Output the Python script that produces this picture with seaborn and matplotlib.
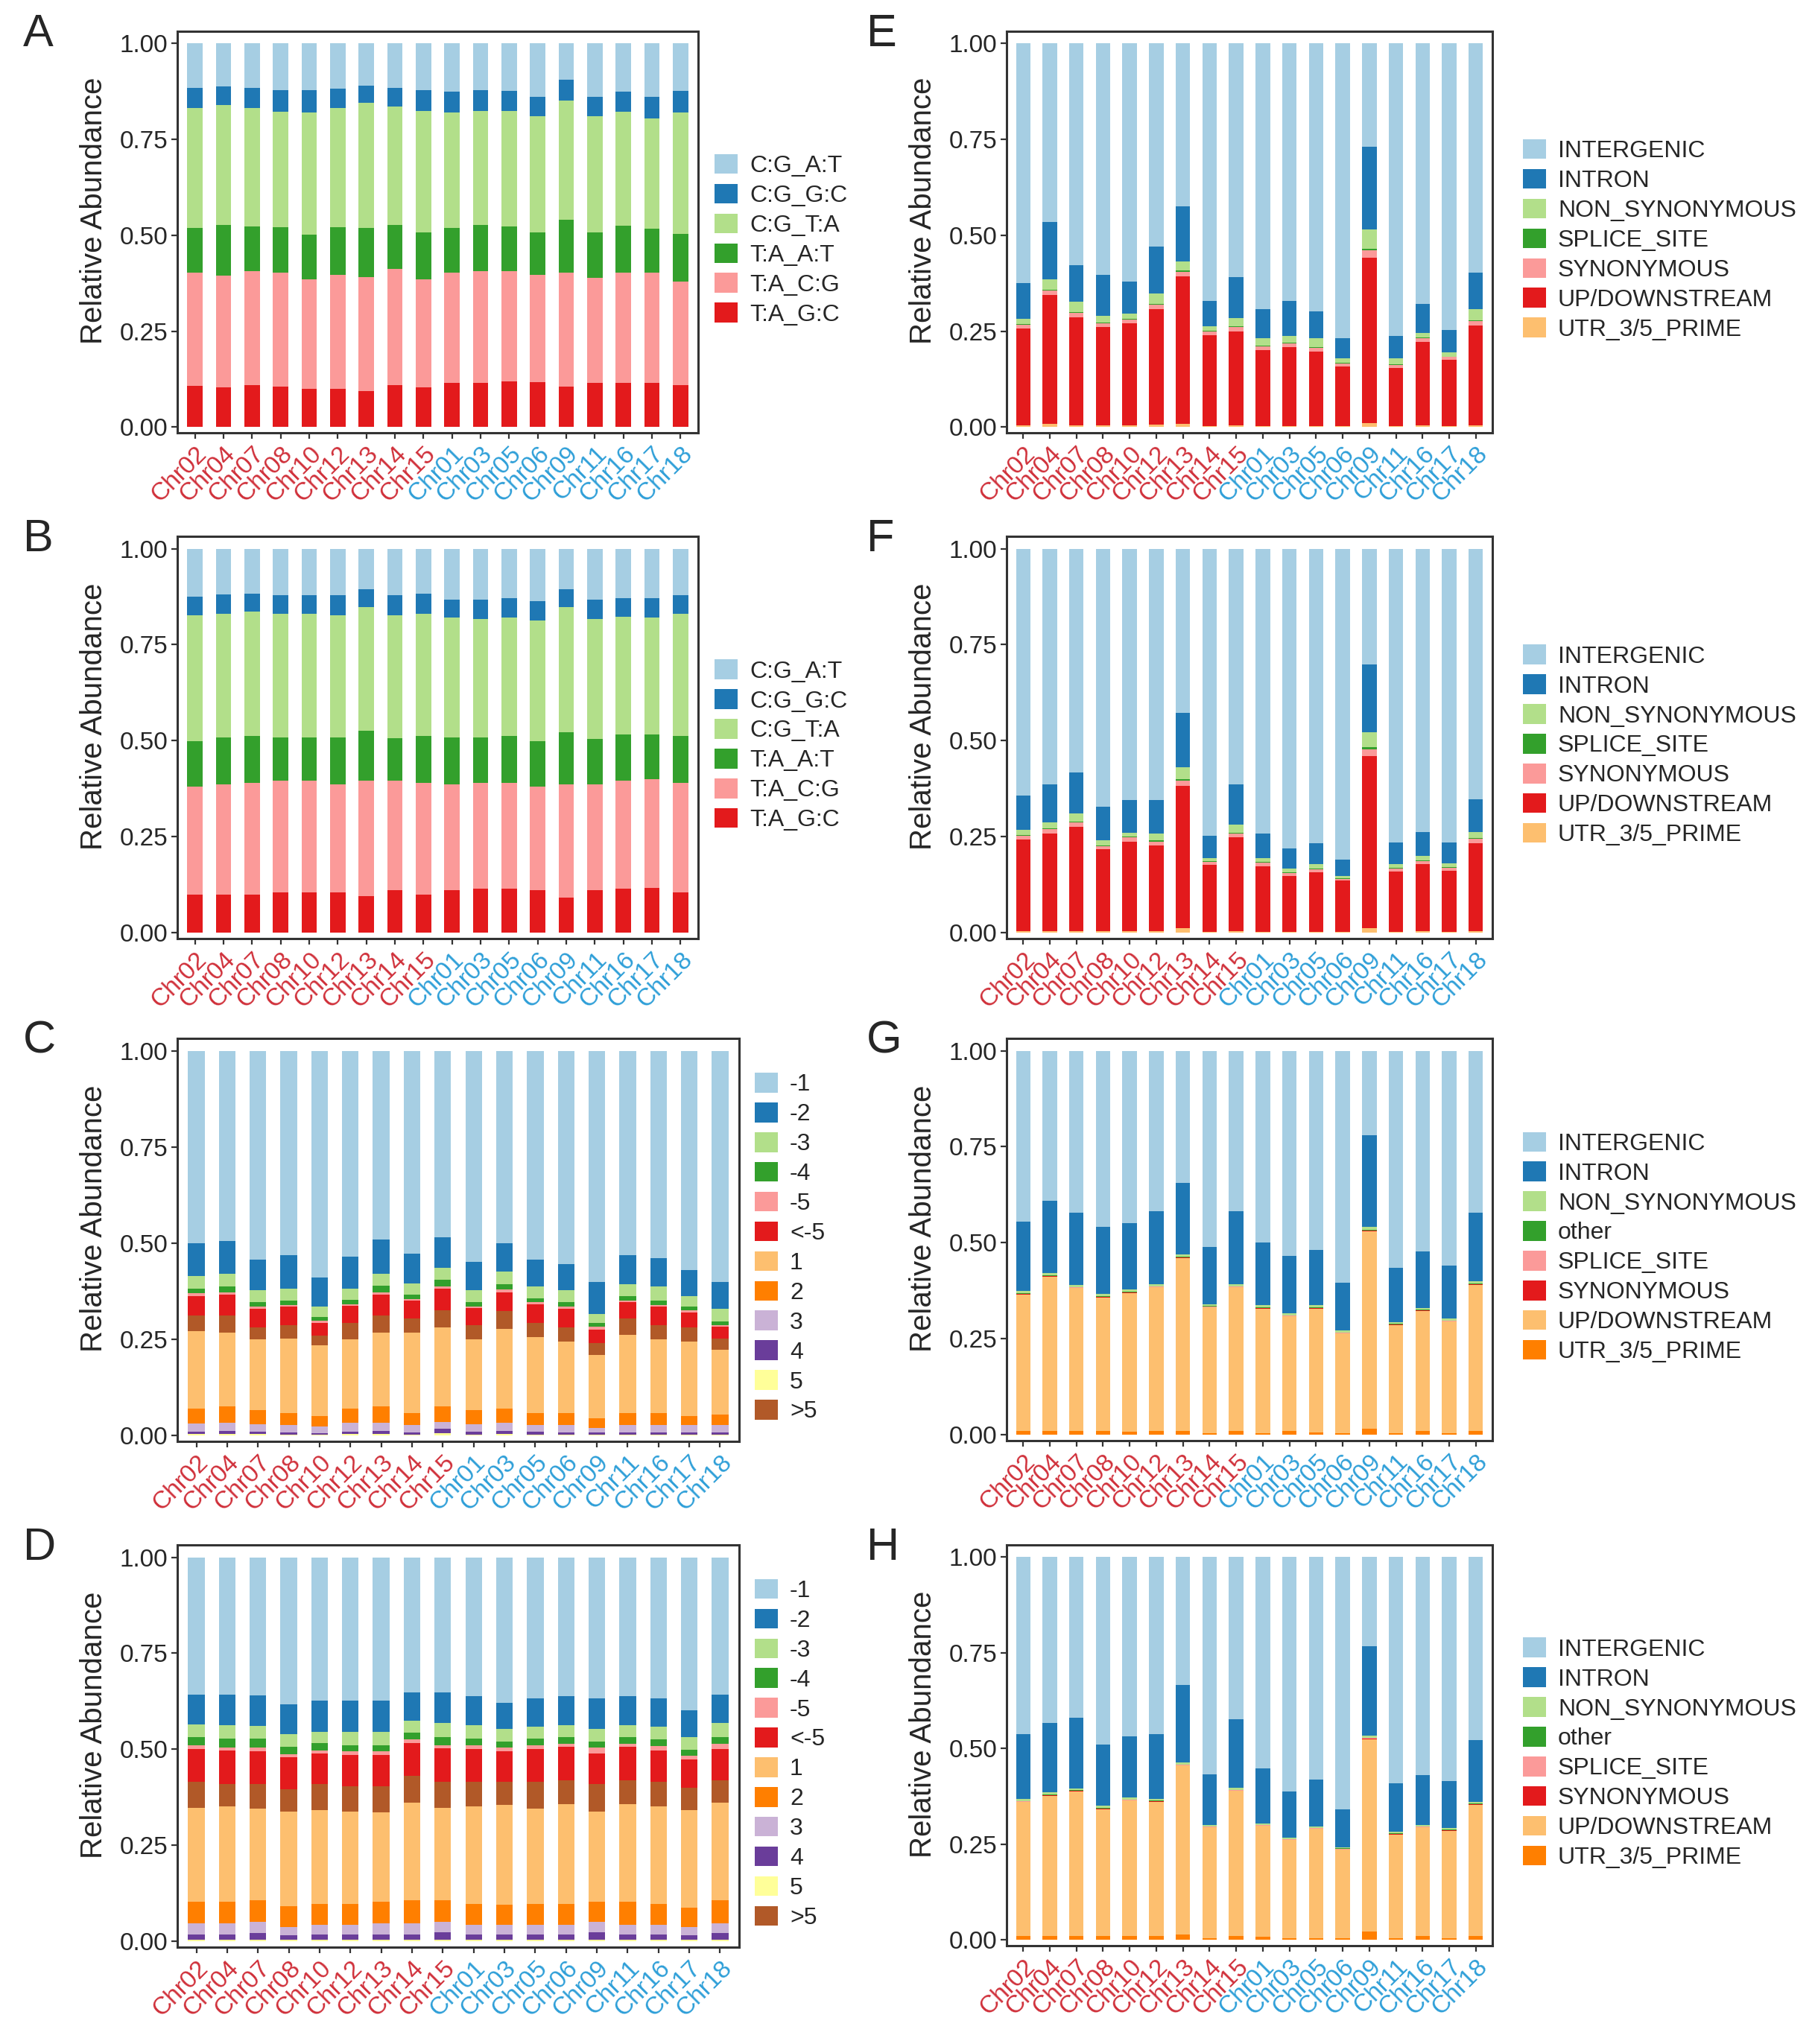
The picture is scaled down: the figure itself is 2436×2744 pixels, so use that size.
import matplotlib.pyplot as plt
import seaborn as sns
from matplotlib.patches import Patch

sns.set_style("white")
plt.rcParams['font.family'] = ['Liberation Sans', 'DejaVu Sans']

W, H = 2436, 2744
pal = sns.color_palette("Paired", 12)
RED_LAB = "#D0303A"
BLUE_LAB = "#2E9FD8"

chroms = ["Chr02", "Chr04", "Chr07", "Chr08", "Chr10", "Chr12", "Chr13", "Chr14", "Chr15",
          "Chr01", "Chr03", "Chr05", "Chr06", "Chr09", "Chr11", "Chr16", "Chr17", "Chr18"]
n_red = 9
total = [1.0] * 18

# every list below = cumulative height reached by the top of that layer
# panel A
a_cg_gc = [0.885, 0.889, 0.885, 0.879, 0.879, 0.883, 0.891, 0.885, 0.879, 0.874, 0.879, 0.876, 0.862, 0.906, 0.862, 0.874, 0.862, 0.876]
a_cg_ta = [0.832, 0.839, 0.831, 0.822, 0.821, 0.832, 0.846, 0.836, 0.825, 0.821, 0.825, 0.825, 0.810, 0.852, 0.810, 0.822, 0.805, 0.821]
a_ta_at = [0.520, 0.527, 0.523, 0.521, 0.502, 0.521, 0.520, 0.527, 0.507, 0.519, 0.527, 0.523, 0.507, 0.540, 0.507, 0.525, 0.517, 0.504]
a_ta_cg = [0.402, 0.395, 0.406, 0.402, 0.385, 0.396, 0.391, 0.413, 0.386, 0.402, 0.406, 0.406, 0.396, 0.402, 0.389, 0.402, 0.402, 0.380]
a_ta_gc = [0.107, 0.104, 0.109, 0.105, 0.100, 0.100, 0.094, 0.109, 0.103, 0.115, 0.115, 0.120, 0.118, 0.105, 0.115, 0.115, 0.115, 0.109]

# panel B
b_cg_gc = [0.874, 0.881, 0.883, 0.879, 0.879, 0.878, 0.894, 0.879, 0.883, 0.868, 0.868, 0.872, 0.864, 0.894, 0.868, 0.872, 0.872, 0.878]
b_cg_ta = [0.826, 0.831, 0.836, 0.831, 0.831, 0.826, 0.847, 0.826, 0.831, 0.821, 0.817, 0.821, 0.813, 0.847, 0.817, 0.823, 0.821, 0.831]
b_ta_at = [0.498, 0.508, 0.512, 0.508, 0.509, 0.508, 0.525, 0.506, 0.512, 0.508, 0.509, 0.513, 0.498, 0.523, 0.504, 0.517, 0.517, 0.512]
b_ta_cg = [0.380, 0.386, 0.390, 0.396, 0.396, 0.386, 0.396, 0.396, 0.391, 0.386, 0.391, 0.391, 0.381, 0.386, 0.386, 0.396, 0.400, 0.390]
b_ta_gc = [0.100, 0.100, 0.100, 0.106, 0.106, 0.106, 0.096, 0.111, 0.100, 0.111, 0.115, 0.115, 0.111, 0.092, 0.111, 0.115, 0.117, 0.106]

# panel C
c_m2 = [0.499, 0.505, 0.457, 0.468, 0.410, 0.464, 0.510, 0.473, 0.516, 0.452, 0.499, 0.457, 0.446, 0.399, 0.468, 0.462, 0.431, 0.399]
c_m3 = [0.415, 0.420, 0.377, 0.382, 0.336, 0.382, 0.420, 0.395, 0.436, 0.378, 0.426, 0.388, 0.378, 0.315, 0.394, 0.388, 0.362, 0.329]
c_m4 = [0.382, 0.388, 0.346, 0.351, 0.309, 0.352, 0.389, 0.367, 0.404, 0.346, 0.394, 0.357, 0.346, 0.292, 0.362, 0.351, 0.336, 0.297]
c_m5 = [0.371, 0.373, 0.336, 0.339, 0.299, 0.342, 0.373, 0.355, 0.388, 0.336, 0.380, 0.346, 0.336, 0.283, 0.351, 0.340, 0.326, 0.287]
c_lt5 = [0.362, 0.367, 0.329, 0.335, 0.293, 0.337, 0.367, 0.350, 0.382, 0.331, 0.373, 0.341, 0.329, 0.275, 0.346, 0.336, 0.320, 0.283]
c_gt5 = [0.313, 0.313, 0.282, 0.287, 0.260, 0.292, 0.313, 0.304, 0.325, 0.287, 0.324, 0.293, 0.282, 0.240, 0.304, 0.287, 0.281, 0.252]
c_p1 = [0.271, 0.267, 0.251, 0.253, 0.234, 0.251, 0.267, 0.267, 0.281, 0.251, 0.278, 0.255, 0.245, 0.210, 0.262, 0.251, 0.245, 0.224]
c_p2 = [0.071, 0.076, 0.066, 0.059, 0.050, 0.071, 0.076, 0.059, 0.076, 0.066, 0.071, 0.059, 0.059, 0.045, 0.059, 0.059, 0.050, 0.055]
c_p3 = [0.031, 0.034, 0.029, 0.027, 0.023, 0.034, 0.034, 0.027, 0.036, 0.029, 0.034, 0.027, 0.027, 0.019, 0.027, 0.027, 0.027, 0.027]
c_p4 = [0.011, 0.013, 0.011, 0.008, 0.006, 0.011, 0.013, 0.008, 0.017, 0.010, 0.013, 0.010, 0.008, 0.008, 0.008, 0.008, 0.008, 0.008]
c_p5 = [0.004, 0.005, 0.005, 0.003, 0.003, 0.005, 0.005, 0.003, 0.006, 0.003, 0.005, 0.003, 0.003, 0.003, 0.003, 0.003, 0.003, 0.003]

# panel D
d_m2 = [0.643, 0.643, 0.640, 0.617, 0.627, 0.627, 0.627, 0.649, 0.649, 0.638, 0.621, 0.632, 0.638, 0.632, 0.638, 0.632, 0.601, 0.642]
d_m3 = [0.564, 0.562, 0.560, 0.540, 0.545, 0.546, 0.546, 0.575, 0.569, 0.562, 0.553, 0.558, 0.563, 0.553, 0.563, 0.558, 0.531, 0.568]
d_m4 = [0.532, 0.527, 0.527, 0.506, 0.516, 0.511, 0.511, 0.543, 0.532, 0.527, 0.521, 0.527, 0.531, 0.520, 0.531, 0.526, 0.498, 0.532]
d_m5 = [0.511, 0.505, 0.505, 0.488, 0.496, 0.495, 0.495, 0.526, 0.511, 0.511, 0.505, 0.511, 0.515, 0.505, 0.515, 0.509, 0.483, 0.514]
d_lt5 = [0.501, 0.496, 0.495, 0.480, 0.490, 0.486, 0.486, 0.517, 0.503, 0.501, 0.494, 0.501, 0.506, 0.490, 0.506, 0.496, 0.474, 0.501]
d_gt5 = [0.416, 0.410, 0.409, 0.396, 0.409, 0.404, 0.404, 0.430, 0.416, 0.416, 0.416, 0.416, 0.420, 0.409, 0.420, 0.416, 0.399, 0.420]
d_p1 = [0.348, 0.351, 0.346, 0.337, 0.341, 0.337, 0.336, 0.362, 0.348, 0.352, 0.356, 0.346, 0.357, 0.338, 0.357, 0.352, 0.342, 0.362]
d_p2 = [0.103, 0.103, 0.108, 0.092, 0.097, 0.097, 0.103, 0.108, 0.108, 0.097, 0.095, 0.097, 0.097, 0.103, 0.103, 0.097, 0.087, 0.108]
d_p3 = [0.048, 0.048, 0.050, 0.038, 0.043, 0.043, 0.048, 0.048, 0.050, 0.043, 0.043, 0.043, 0.043, 0.050, 0.043, 0.043, 0.037, 0.048]
d_p4 = [0.017, 0.017, 0.022, 0.016, 0.017, 0.017, 0.017, 0.017, 0.024, 0.017, 0.017, 0.017, 0.017, 0.024, 0.017, 0.017, 0.016, 0.021]
d_p5 = [0.005, 0.005, 0.005, 0.004, 0.005, 0.005, 0.005, 0.005, 0.005, 0.005, 0.005, 0.005, 0.005, 0.005, 0.005, 0.005, 0.004, 0.005]

# panel E
e_intron = [0.376, 0.534, 0.423, 0.397, 0.380, 0.470, 0.575, 0.329, 0.391, 0.308, 0.329, 0.301, 0.232, 0.731, 0.238, 0.321, 0.254, 0.402]
e_nonsyn = [0.282, 0.385, 0.326, 0.289, 0.295, 0.348, 0.432, 0.262, 0.284, 0.231, 0.237, 0.231, 0.179, 0.515, 0.179, 0.246, 0.194, 0.308]
e_splice = [0.268, 0.358, 0.300, 0.273, 0.283, 0.322, 0.408, 0.251, 0.262, 0.213, 0.220, 0.209, 0.167, 0.465, 0.163, 0.234, 0.184, 0.279]
e_syn = [0.266, 0.356, 0.298, 0.271, 0.281, 0.320, 0.405, 0.249, 0.260, 0.211, 0.218, 0.207, 0.166, 0.460, 0.162, 0.232, 0.183, 0.277]
e_updown = [0.256, 0.344, 0.286, 0.261, 0.271, 0.308, 0.393, 0.239, 0.250, 0.201, 0.208, 0.197, 0.158, 0.442, 0.154, 0.222, 0.175, 0.265]
e_utr = [0.004, 0.008, 0.004, 0.004, 0.004, 0.006, 0.008, 0.003, 0.004, 0.003, 0.003, 0.003, 0.003, 0.010, 0.003, 0.004, 0.003, 0.004]

# panel F
f_intron = [0.358, 0.386, 0.418, 0.328, 0.346, 0.345, 0.572, 0.252, 0.386, 0.259, 0.219, 0.234, 0.191, 0.699, 0.235, 0.262, 0.236, 0.347]
f_nonsyn = [0.268, 0.288, 0.311, 0.241, 0.260, 0.258, 0.430, 0.194, 0.282, 0.195, 0.168, 0.178, 0.147, 0.522, 0.178, 0.200, 0.181, 0.262]
f_splice = [0.254, 0.272, 0.289, 0.228, 0.250, 0.240, 0.399, 0.187, 0.261, 0.184, 0.157, 0.167, 0.143, 0.483, 0.169, 0.188, 0.172, 0.247]
f_syn = [0.252, 0.270, 0.287, 0.226, 0.248, 0.238, 0.396, 0.185, 0.259, 0.182, 0.155, 0.165, 0.141, 0.478, 0.167, 0.186, 0.170, 0.245]
f_updown = [0.242, 0.259, 0.275, 0.217, 0.238, 0.228, 0.383, 0.177, 0.249, 0.174, 0.148, 0.158, 0.136, 0.460, 0.160, 0.178, 0.162, 0.234]
f_utr = [0.005, 0.005, 0.005, 0.005, 0.005, 0.005, 0.012, 0.003, 0.005, 0.003, 0.003, 0.003, 0.003, 0.013, 0.003, 0.004, 0.003, 0.005]

# panel G
g_intron = [0.556, 0.609, 0.579, 0.542, 0.552, 0.583, 0.656, 0.489, 0.583, 0.500, 0.466, 0.481, 0.397, 0.780, 0.435, 0.478, 0.440, 0.579]
g_nonsyn = [0.374, 0.421, 0.391, 0.367, 0.378, 0.393, 0.470, 0.340, 0.393, 0.337, 0.316, 0.337, 0.271, 0.541, 0.294, 0.331, 0.303, 0.400]
g_other = [0.368, 0.415, 0.385, 0.361, 0.372, 0.387, 0.463, 0.335, 0.387, 0.332, 0.311, 0.332, 0.267, 0.533, 0.289, 0.326, 0.298, 0.394]
g_splice = [0.367, 0.414, 0.384, 0.360, 0.371, 0.386, 0.462, 0.334, 0.386, 0.331, 0.310, 0.331, 0.266, 0.532, 0.288, 0.325, 0.297, 0.393]
g_syn = [0.366, 0.413, 0.383, 0.359, 0.370, 0.385, 0.461, 0.333, 0.385, 0.330, 0.309, 0.330, 0.265, 0.531, 0.287, 0.324, 0.296, 0.392]
g_updown = [0.365, 0.412, 0.382, 0.358, 0.369, 0.384, 0.460, 0.332, 0.384, 0.329, 0.308, 0.329, 0.264, 0.530, 0.286, 0.323, 0.295, 0.391]
g_utr = [0.010, 0.010, 0.010, 0.010, 0.009, 0.010, 0.010, 0.004, 0.010, 0.005, 0.010, 0.006, 0.004, 0.016, 0.004, 0.010, 0.004, 0.010]

# panel H
h_intron = [0.538, 0.566, 0.581, 0.511, 0.532, 0.537, 0.667, 0.433, 0.577, 0.449, 0.387, 0.419, 0.342, 0.767, 0.410, 0.430, 0.415, 0.523]
h_nonsyn = [0.368, 0.385, 0.396, 0.350, 0.372, 0.369, 0.464, 0.301, 0.397, 0.305, 0.268, 0.297, 0.242, 0.534, 0.282, 0.301, 0.292, 0.361]
h_other = [0.363, 0.380, 0.391, 0.345, 0.367, 0.364, 0.458, 0.297, 0.392, 0.301, 0.264, 0.293, 0.239, 0.528, 0.278, 0.297, 0.288, 0.356]
h_splice = [0.362, 0.379, 0.390, 0.344, 0.366, 0.363, 0.457, 0.296, 0.391, 0.300, 0.263, 0.292, 0.238, 0.527, 0.277, 0.296, 0.287, 0.355]
h_syn = [0.361, 0.378, 0.389, 0.343, 0.365, 0.362, 0.456, 0.295, 0.390, 0.299, 0.262, 0.291, 0.237, 0.526, 0.276, 0.295, 0.286, 0.354]
h_updown = [0.360, 0.377, 0.388, 0.342, 0.364, 0.361, 0.455, 0.294, 0.389, 0.298, 0.261, 0.290, 0.236, 0.525, 0.275, 0.294, 0.285, 0.353]
h_utr = [0.010, 0.010, 0.010, 0.010, 0.010, 0.010, 0.015, 0.005, 0.010, 0.008, 0.005, 0.005, 0.004, 0.022, 0.005, 0.010, 0.005, 0.010]

panels = {
    "A": ((238, 42, 937, 581), 22,
          [("C:G_A:T", 0, total), ("C:G_G:C", 1, a_cg_gc), ("C:G_T:A", 2, a_cg_ta),
           ("T:A_A:T", 3, a_ta_at), ("T:A_C:G", 4, a_ta_cg), ("T:A_G:C", 5, a_ta_gc)], None),
    "B": ((238, 720, 937, 1260), 22,
          [("C:G_A:T", 0, total), ("C:G_G:C", 1, b_cg_gc), ("C:G_T:A", 2, b_cg_ta),
           ("T:A_A:T", 3, b_ta_at), ("T:A_C:G", 4, b_ta_cg), ("T:A_G:C", 5, b_ta_gc)], None),
    "C": ((238, 1394, 992, 1935), 21,
          [("-1", 0, total), ("-2", 1, c_m2), ("-3", 2, c_m3), ("-4", 3, c_m4), ("-5", 4, c_m5),
           ("<-5", 5, c_lt5), (">5", 11, c_gt5), ("1", 6, c_p1), ("2", 7, c_p2), ("3", 8, c_p3),
           ("4", 9, c_p4), ("5", 10, c_p5)],
          ["-1", "-2", "-3", "-4", "-5", "<-5", "1", "2", "3", "4", "5", ">5"]),
    "D": ((238, 2074, 992, 2614), 21,
          [("-1", 0, total), ("-2", 1, d_m2), ("-3", 2, d_m3), ("-4", 3, d_m4), ("-5", 4, d_m5),
           ("<-5", 5, d_lt5), (">5", 11, d_gt5), ("1", 6, d_p1), ("2", 7, d_p2), ("3", 8, d_p3),
           ("4", 9, d_p4), ("5", 10, d_p5)],
          ["-1", "-2", "-3", "-4", "-5", "<-5", "1", "2", "3", "4", "5", ">5"]),
    "E": ((1351, 42, 2003, 581), 41,
          [("INTERGENIC", 0, total), ("INTRON", 1, e_intron), ("NON_SYNONYMOUS", 2, e_nonsyn),
           ("SPLICE_SITE", 3, e_splice), ("SYNONYMOUS", 4, e_syn), ("UP/DOWNSTREAM", 5, e_updown),
           ("UTR_3/5_PRIME", 6, e_utr)], None),
    "F": ((1351, 720, 2003, 1260), 41,
          [("INTERGENIC", 0, total), ("INTRON", 1, f_intron), ("NON_SYNONYMOUS", 2, f_nonsyn),
           ("SPLICE_SITE", 3, f_splice), ("SYNONYMOUS", 4, f_syn), ("UP/DOWNSTREAM", 5, f_updown),
           ("UTR_3/5_PRIME", 6, f_utr)], None),
    "G": ((1351, 1394, 2003, 1934), 41,
          [("INTERGENIC", 0, total), ("INTRON", 1, g_intron), ("NON_SYNONYMOUS", 2, g_nonsyn),
           ("other", 3, g_other), ("SPLICE_SITE", 4, g_splice), ("SYNONYMOUS", 5, g_syn),
           ("UP/DOWNSTREAM", 6, g_updown), ("UTR_3/5_PRIME", 7, g_utr)], None),
    "H": ((1351, 2074, 2003, 2612), 41,
          [("INTERGENIC", 0, total), ("INTRON", 1, h_intron), ("NON_SYNONYMOUS", 2, h_nonsyn),
           ("other", 3, h_other), ("SPLICE_SITE", 4, h_splice), ("SYNONYMOUS", 5, h_syn),
           ("UP/DOWNSTREAM", 6, h_updown), ("UTR_3/5_PRIME", 7, h_utr)], None),
}

fig = plt.figure(figsize=(W / 100, H / 100), dpi=100)

for letter, (box, leg_gap, layers, leg_order) in panels.items():
    l, t, r, b = box
    ax = fig.add_axes([l / W, 1 - b / H, (r - l) / W, (b - t) / H])
    # stacked bars: draw cumulative heights, tallest first
    for name, ci, tops in layers:
        sns.barplot(x=chroms, y=tops, order=chroms, color=pal[ci], saturation=1,
                    width=0.54, errorbar=None, linewidth=0, ax=ax)
    ax.set_xlim(-0.62, 17.62)
    ax.set_ylim(-0.015, 1.032)
    ax.set_yticks([0, 0.25, 0.5, 0.75, 1.0])
    ax.set_yticklabels(["0.00", "0.25", "0.50", "0.75", "1.00"])
    ax.tick_params(axis="both", bottom=True, left=True, length=6, width=1.6,
                   color="#333333", labelsize=24, pad=3)
    for i, lab in enumerate(ax.get_xticklabels()):
        lab.set_color(RED_LAB if i < n_red else BLUE_LAB)
        lab.set_rotation(45)
        lab.set_ha("right")
        lab.set_va("top")
        lab.set_rotation_mode("anchor")
    for sp in ax.spines.values():
        sp.set_color("#333333")
        sp.set_linewidth(2.2)
    ax.set_xlabel("")
    ax.set_ylabel("Relative Abundance", fontsize=29)
    ax.yaxis.set_label_coords(-93 / (r - l), 0.553)

    colors = {name: pal[ci] for name, ci, _ in layers}
    order = leg_order if leg_order else [name for name, _, _ in layers]
    handles = [Patch(facecolor=colors[nm], edgecolor="none", label=nm) for nm in order]
    ax.legend(handles=handles, loc="center left", bbox_to_anchor=(1 + leg_gap / (r - l), 0.48),
              frameon=False, fontsize=23, borderpad=0, borderaxespad=0,
              handlelength=0.97, handleheight=0.9, handletextpad=0.5, labelspacing=0.27)

    lx = 31 if l < 1000 else 1163
    fig.text(lx / W, 1 - (t - 24) / H, letter, fontsize=44, ha="left", va="top")

fig.savefig("out.png", dpi=100)
